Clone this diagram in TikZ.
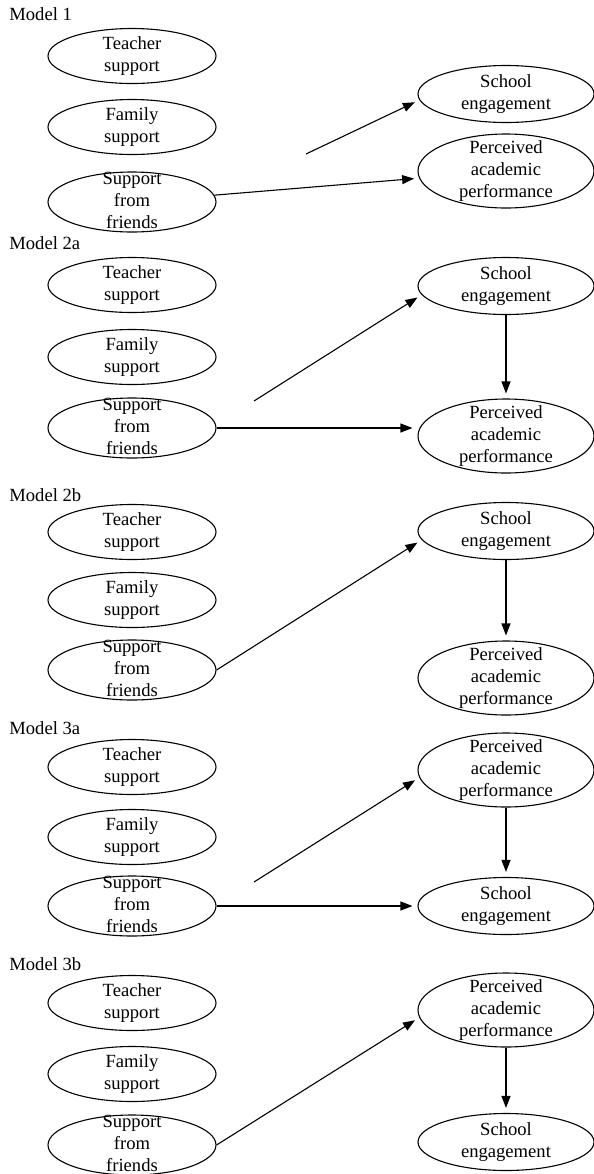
\documentclass[tikz,border=0pt]{standalone}
\usepackage{fontspec}
\setmainfont{Liberation Serif}
\usetikzlibrary{shapes.geometric,arrows.meta}

\newcommand{\ovaltext}[1]{\smash{\raisebox{-2.25pt}{\begin{tabular}{@{}c@{}}#1\end{tabular}}}}

\begin{document}
\begin{tikzpicture}[
   x = 0.5pt, y = -0.5pt,
   every node/.style = {font=\fontsize{9.3}{11}\selectfont, text=black},
   oval/.style = {draw, ellipse, line width=0.55pt, inner sep=0pt,
      minimum width=84pt, minimum height=27.5pt},
   tall/.style = {oval, minimum height=30pt},
   goal/.style = {oval, minimum width=88pt, minimum height=28.5pt},
   goaltall/.style = {oval, minimum width=88pt, minimum height=37pt},
   effect/.style = {-{Triangle[length=6pt,width=4.5pt]}, line width=0.55pt,
      shorten >=2.5pt},
   modellabel/.style = {anchor=west, inner sep=0pt},
]
   \useasboundingbox (0,0) rectangle (594,1174);
   % model 1
   \node [modellabel] (m1) at (9,14) {Model 1};
   \node [oval] (m1teacher) at (132,56) {\ovaltext{Teacher\\support}};
   \node [oval] (m1family) at (132,127) {\ovaltext{Family\\support}};
   \node [tall] (m1friends) at (132,202) {\ovaltext{Support\\from\\friends}};
   \node [goal] (m1school) at (506,94) {\ovaltext{School\\engagement}};
   \node [goaltall] (m1perc) at (506,171)
      {\ovaltext{Perceived\\academic\\performance}};
   \coordinate (m1start) at (306,154);
   \draw [effect] (m1start) -- (m1school.184);
   \draw [effect] (m1friends) -- (m1perc);
   % model 2a
   \node [modellabel] (m2a) at (9,243) {Model 2a};
   \node [oval] (m2ateacher) at (132,285) {\ovaltext{Teacher\\support}};
   \node [oval] (m2afamily) at (132,357) {\ovaltext{Family\\support}};
   \node [tall] (m2afriends) at (132,428) {\ovaltext{Support\\from\\friends}};
   \node [goal] (m2aschool) at (506,286) {\ovaltext{School\\engagement}};
   \node [goaltall] (m2aperc) at (506,436)
      {\ovaltext{Perceived\\academic\\performance}};
   \coordinate (m2astart) at (254,401);
   \draw [effect] (m2astart) -- (m2aschool.186);
   \draw [effect] (m2afriends.east) -- (m2afriends.east -| m2aperc.west);
   \draw [effect] (m2aschool) -- (m2aperc);
   % model 2b
   \node [modellabel] (m2b) at (9,495) {Model 2b};
   \node [oval] (m2bteacher) at (132,532) {\ovaltext{Teacher\\support}};
   \node [oval] (m2bfamily) at (132,600) {\ovaltext{Family\\support}};
   \node [tall] (m2bfriends) at (132,670) {\ovaltext{Support\\from\\friends}};
   \node [goal] (m2bschool) at (506,531) {\ovaltext{School\\engagement}};
   \node [goaltall] (m2bperc) at (506,678)
      {\ovaltext{Perceived\\academic\\performance}};
   \draw [effect] (m2bfriends.east) -- (m2bschool.186);
   \draw [effect] (m2bschool) -- (m2bperc);
   % model 3a
   \node [modellabel] (m3a) at (9,728) {Model 3a};
   \node [oval] (m3ateacher) at (132,767) {\ovaltext{Teacher\\support}};
   \node [oval] (m3afamily) at (132,837) {\ovaltext{Family\\support}};
   \node [tall] (m3afriends) at (132,906) {\ovaltext{Support\\from\\friends}};
   \node [goaltall] (m3aperc) at (506,770)
      {\ovaltext{Perceived\\academic\\performance}};
   \node [goal] (m3aschool) at (506,906) {\ovaltext{School\\engagement}};
   \coordinate (m3astart) at (254,882);
   \draw [effect] (m3astart) -- (m3aperc.185);
   \draw [effect] (m3afriends) -- (m3aschool);
   \draw [effect] (m3aperc) -- (m3aschool);
   % model 3b
   \node [modellabel] (m3b) at (9,964) {Model 3b};
   \node [oval] (m3bteacher) at (132,1003) {\ovaltext{Teacher\\support}};
   \node [oval] (m3bfamily) at (132,1074) {\ovaltext{Family\\support}};
   \node [tall] (m3bfriends) at (132,1145) {\ovaltext{Support\\from\\friends}};
   \node [goaltall] (m3bperc) at (506,1010)
      {\ovaltext{Perceived\\academic\\performance}};
   \node [goal] (m3bschool) at (506,1142) {\ovaltext{School\\engagement}};
   \draw [effect] (m3bfriends.east) -- (m3bperc.185);
   \draw [effect] (m3bperc) -- (m3bschool);
\end{tikzpicture}
\end{document}
